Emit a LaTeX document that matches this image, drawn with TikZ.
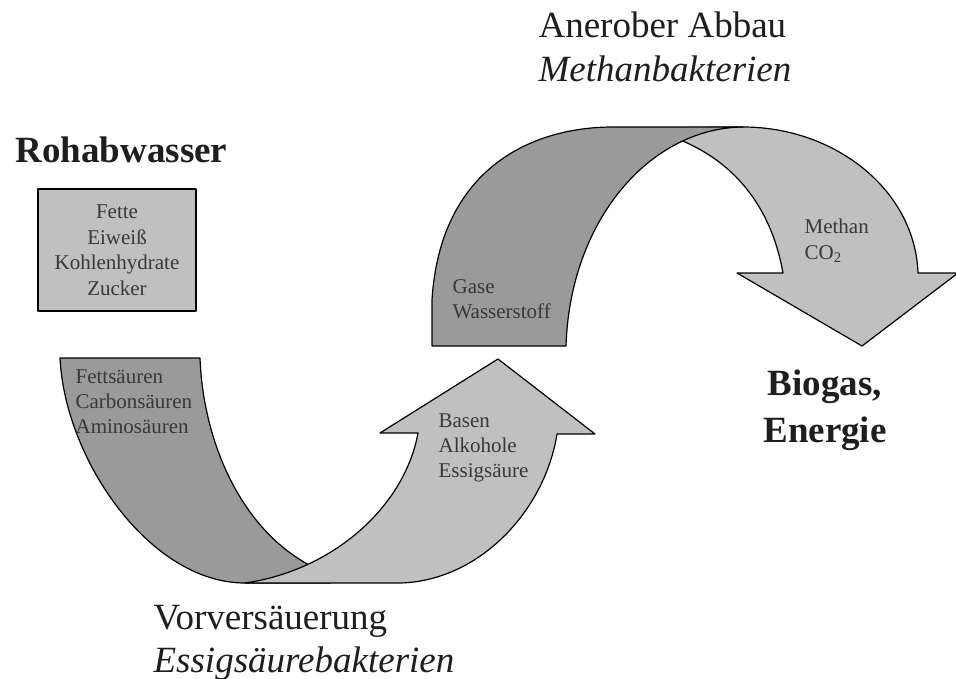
\documentclass[tikz,border=0pt]{standalone}
\usepackage{fontspec}
\setmainfont{Liberation Serif}
\definecolor{bandDark}{HTML}{9A9A9A}
\definecolor{bandLight}{HTML}{C0C0C0}
\definecolor{inkText}{HTML}{383838}
\definecolor{inkTitle}{HTML}{1E1E1E}
\begin{document}
\begin{tikzpicture}[x=1pt, y=-1pt, line width=1.2pt, line join=round,
  darkband/.style={fill=bandDark, draw=black},
  lightband/.style={fill=bandLight, draw=black},
  small/.style={font=\fontsize{21}{25}\selectfont, text=inkText, align=left, inner sep=0pt, anchor=base west},
  title/.style={font=\fontsize{37}{44}\selectfont, text=inkTitle, align=left, inner sep=0pt, anchor=base west},
  titlebold/.style={title, font=\fontsize{37}{47}\selectfont\bfseries}]

\useasboundingbox (0,0) rectangle (956,679);

% lower curved arrow: dark back band first, light front band on top
\draw[darkband] (60,358) -- (200,358)
  .. controls (203,440) and (240,530) .. (313,567)
  -- (330,583) -- (245,583)
  .. controls (150,583) and (65,460) .. (60,358) -- cycle;
\draw[lightband] (245,583) -- (400,583)
  .. controls (480,581) and (545,510) .. (557,434)
  -- (595,434) -- (498,359) -- (380,433) -- (418,433)
  .. controls (405,505) and (335,570) .. (245,583) -- cycle;

% upper curved arrow: light band behind, dark band in front
\draw[lightband] (640,128) -- (743,127)
  .. controls (835,127) and (915,190) .. (918,273)
  -- (958,273) -- (862,346) -- (737,273) -- (783,273)
  .. controls (770,200) and (725,145) .. (640,128) -- cycle;
\draw[darkband] (432,346) -- (566,346)
  .. controls (570,220) and (650,128) .. (743,127)
  -- (613,127)
  .. controls (530,127) and (440,170) .. (432,300) -- cycle;

% raw sewage box
\node[draw=black, fill=bandLight, line width=1.2pt, minimum width=158pt, minimum height=122pt,
      align=center, inner sep=0pt, font=\fontsize{21}{25.5}\selectfont, text=inkText]
  (inputs) at (117,250) {Fette\\Eiweiß\\Kohlenhydrate\\Zucker};

% labels inside the bands (anchored at the baseline of their last line)
\node[small] (acids) at (75,433) {Fettsäuren\\Carbonsäuren\\Aminosäuren};
\node[small] (bases) at (438,477) {Basen\\Alkohole\\Essigsäure};
\node[small] (gases) at (452,318) {Gase\\Wasserstoff};
\node[small] (methane) at (804,259) {Methan\\CO\textsubscript{2}};

% headings
\node[titlebold] (raw) at (15,163) {Rohabwasser};
\node[title] (stage3) at (538,82) {Anerober Abbau\\\textit{Methanbakterien}};
\node[title, font=\fontsize{37}{43}\selectfont] (stage1) at (153,672) {Vorversäuerung\\\textit{Essigsäurebakterien}};
\node[titlebold, align=center, anchor=base] (product) at (825,442) {Biogas,\\Energie};
\end{tikzpicture}
\end{document}
